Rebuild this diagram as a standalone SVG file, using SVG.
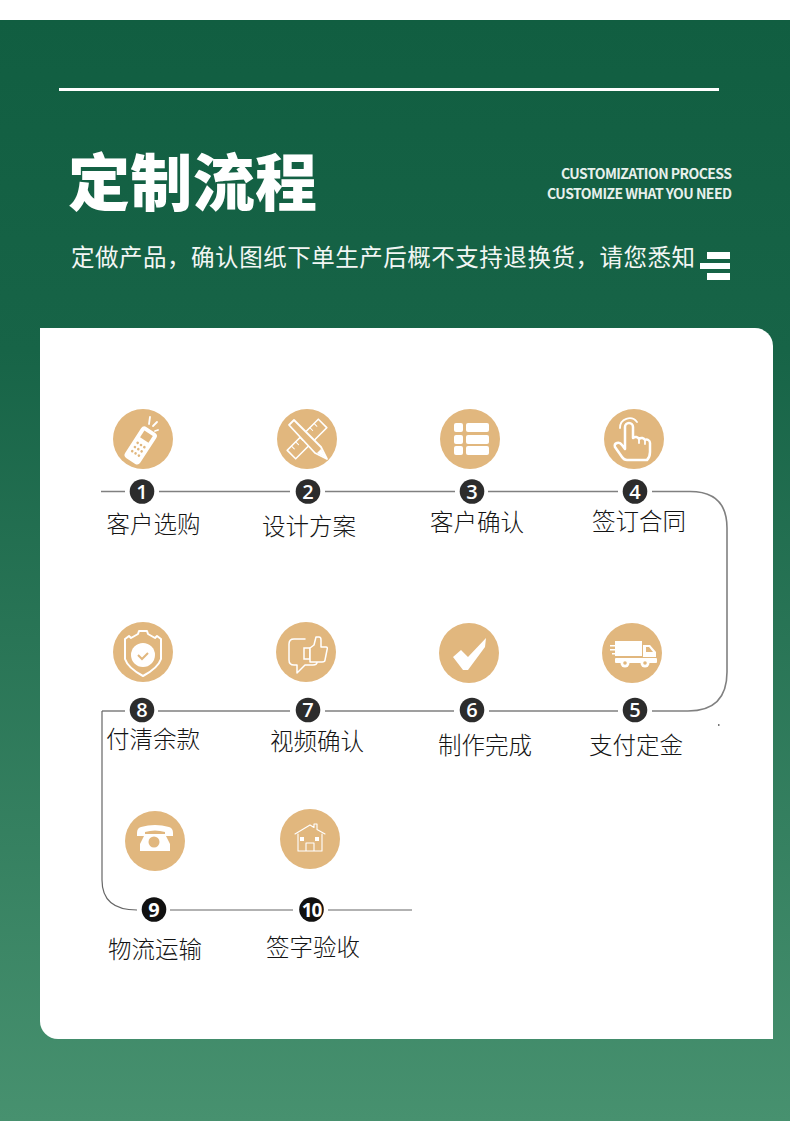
<svg xmlns="http://www.w3.org/2000/svg" width="790" height="1121" viewBox="0 0 790 1121">
<style>
.zh{font-family:"Noto Sans CJK SC","Noto Sans",sans-serif}
.lb{font-size:23.5px;fill:#141414;text-anchor:middle;font-weight:300}
.c{fill:#e1b77e}
.b{fill:#2c2c2c}
.n{font-family:"Open Sans","Liberation Sans",sans-serif;font-size:20px;font-weight:600;fill:#fff;text-anchor:middle}
.w{fill:#fff}
.o{fill:none;stroke:#fff;stroke-linejoin:round;stroke-linecap:round}
.line{fill:none;stroke:#808080;stroke-width:1.6}
.en{font-family:"Noto Sans CJK SC","Noto Sans",sans-serif;font-size:14px;font-weight:700;fill:#e8f0ec;text-anchor:end}
</style>
<defs>
<linearGradient id="bg" x1="0" y1="20" x2="0" y2="1121" gradientUnits="userSpaceOnUse">
<stop offset="0" stop-color="#115e41"/><stop offset="0.3" stop-color="#176447"/><stop offset="1" stop-color="#47916f"/>
</linearGradient>
</defs>
<rect width="790" height="1121" fill="#fff"/>
<rect y="20" width="790" height="1101" fill="url(#bg)"/>
<rect x="59" y="88" width="660" height="3" fill="#fff"/>
<text class="zh" x="68" y="206" font-size="62" font-weight="900" fill="#fff" textLength="249">定制流程</text>
<text class="en" x="732" y="179" textLength="171">CUSTOMIZATION PROCESS</text>
<text class="en" x="732" y="199" textLength="185">CUSTOMIZE WHAT YOU NEED</text>
<text class="zh" x="71" y="266" font-size="23.5" fill="#f2f6f4" textLength="624">定做产品，确认图纸下单生产后概不支持退换货，请您悉知</text>
<g class="w"><rect x="707" y="252" width="23" height="7"/><rect x="700" y="263" width="30" height="6"/><rect x="707" y="273" width="23" height="7"/></g>
<path d="M40 328H755A18 18 0 0 1 773 346V1039H58A18 18 0 0 1 40 1021Z" fill="#fff"/>

<g id="connectors">
<path class="line" d="M101 491.500H125M159 491.500H290M325 491.500H455M488 491.500H618M652 491.500H690Q727 491.500 727 528V672Q727 711 688 711H652M618 711H489M454 711H325M290 711H158M125 711H102"/>
<path d="M102 711V880Q102 910 137 910M170 910H293M328 910H412" fill="none" stroke="#666" stroke-width="1.200"/>
<rect x="718" y="724" width="1.500" height="2" fill="#777"/>
</g>

<g id="node1"><circle class="c" cx="143" cy="439" r="30"/>
<g transform="rotate(33 141 445)"><rect class="w" x="132" y="427" width="18" height="37" rx="4"/><rect class="c" x="136" y="431" width="10" height="8"/><g class="c"><circle cx="137" cy="445" r="1.300"/><circle cx="141" cy="445" r="1.300"/><circle cx="145" cy="445" r="1.300"/><circle cx="137" cy="450" r="1.300"/><circle cx="141" cy="450" r="1.300"/><circle cx="145" cy="450" r="1.300"/><circle cx="137" cy="455" r="1.300"/><circle cx="141" cy="455" r="1.300"/><circle cx="145" cy="455" r="1.300"/></g></g>
<path class="o" style="stroke-width:1.800" d="M149 424l1-7M153 426l4-4M155 431l3-1"/>
<circle class="b" cx="142" cy="491.500" r="12.300"/><text class="n" x="142" y="498.500">1</text>
<text class="zh lb" x="153.500" y="533">客户选购</text></g>

<g id="node2"><circle class="c" cx="307" cy="439" r="30"/>
<g transform="rotate(-45 307 439)"><rect x="285" y="433" width="44" height="12" class="o" style="stroke-width:1.600"/><path class="o" style="stroke-width:1" d="M291 433v4M297 433v4M303 433v4M311 433v4M317 433v4M323 433v4"/></g>
<path d="M289 425l5-5 27 27 6 12-12-6z" fill="#e1b77e" stroke="#fff" stroke-width="1.800" stroke-linejoin="round"/><path class="w" d="M321 449l6 10-10-6z"/>
<circle class="b" cx="308" cy="491.500" r="12.300"/><text class="n" x="308" y="498.500">2</text>
<text class="zh lb" x="309" y="535">设计方案</text></g>

<g id="node3"><circle class="c" cx="470" cy="439" r="30"/>
<g class="w"><rect x="454" y="423" width="9" height="9" rx="2"/><rect x="466" y="423" width="23" height="9" rx="2"/><rect x="454" y="435" width="9" height="9" rx="2"/><rect x="466" y="435" width="23" height="9" rx="2"/><rect x="454" y="446" width="9" height="9" rx="2"/><rect x="466" y="446" width="23" height="9" rx="2"/></g>
<circle class="b" cx="472" cy="491.500" r="12.300"/><text class="n" x="472" y="498.500">3</text>
<text class="zh lb" x="477" y="531">客户确认</text></g>

<g id="node4"><circle class="c" cx="634" cy="439" r="30"/>
<path class="o" style="stroke-width:2.500" d="M625 449V427a4 4 0 0 1 8 0V438c2-2 5-1 6 1c2-2 5-1 6 1c2-1 5 0 5 3V452q0 5-3 8H627q-3 0-5-3L615 447q-1-3 2-4q3-1 5 2z"/>
<path class="o" style="stroke-width:1.800" d="M639 439v4M645 440v4M620 428a9.500 9.500 0 0 1 17-6"/>
<circle class="b" cx="635" cy="491.500" r="12.300"/><text class="n" x="635" y="498.500">4</text>
<text class="zh lb" x="639" y="530">签订合同</text></g>

<g id="node5"><circle class="c" cx="632" cy="653" r="30"/>
<g class="w"><rect x="615" y="641" width="27" height="15"/><path d="M643 645h7l6 7v5h-13z"/><rect x="615" y="658" width="42" height="5" rx="1"/><rect x="610" y="645" width="10" height="1.500"/><rect x="610" y="649" width="10" height="1.500"/><rect x="612" y="653" width="8" height="1.500"/><circle cx="625" cy="663" r="4.500"/><circle cx="645" cy="663" r="4.500"/></g>
<path d="M646 647h3l4 5h-7z" class="c"/><circle cx="625" cy="663" r="1.800" class="c"/><circle cx="645" cy="663" r="1.800" class="c"/>
<circle class="b" cx="635" cy="710" r="12.300"/><text class="n" x="635" y="717">5</text>
<text class="zh lb" x="636" y="754">支付定金</text></g>

<g id="node6"><circle class="c" cx="469" cy="653" r="30"/>
<path class="w" d="M453 657l8-7 7 7 18-19-1 9-17 23h-5z"/>
<circle class="b" cx="472" cy="710" r="12.300"/><text class="n" x="472" y="717">6</text>
<text class="zh lb" x="485" y="754">制作完成</text></g>

<g id="node7"><circle class="c" cx="306" cy="652" r="30"/>
<path class="o" style="stroke-width:1.500" d="M305 639H294q-5 0-5 5V660q0 5 5 5h3v8l8-8h8q4 0 4-3"/><path d="M304 648h6v11h-6z" fill="#e1b77e" stroke="#fff" stroke-width="1.500"/><path d="M310 648l4-3 2-8h3q2 0 2 3v7h5q2 0 1 3l-2 10q0 2-3 2h-12z" fill="#e1b77e" stroke="#fff" stroke-width="1.500" stroke-linejoin="round"/>
<circle class="b" cx="308" cy="710" r="12.300"/><text class="n" x="308" y="717">7</text>
<text class="zh lb" x="317" y="750">视频确认</text></g>

<g id="node8"><circle class="c" cx="143" cy="652" r="30"/>
<path class="o" style="stroke-width:2" d="M125 639l4-3 2 2 7-4 1-3h8l1 3 7 4 2-2 4 3v20q-3 9-18 17q-15-8-18-17z"/>
<circle cx="143" cy="655" r="12" class="w"/><path d="M138 655l4 4 6-6" fill="none" stroke="#e1b77e" stroke-width="2"/>
<circle class="b" cx="142" cy="710" r="12.300"/><text class="n" x="142" y="717">8</text>
<text class="zh lb" x="153" y="748">付清余款</text></g>

<g id="node9"><circle class="c" cx="155" cy="841" r="30"/>
<path class="w" d="M137 833q0-5 4-6q14-4 28 0q4 1 4 6v3h-8v-4q-10-3-20 0v4h-8z"/><path class="w" d="M145 834h20l5 10v7h-30v-7z"/><circle cx="154" cy="842" r="5.500" class="c"/>
<circle cx="154" cy="909.500" r="12.300" fill="#111"/><text class="n" x="154" y="916.500" style="font-weight:700">9</text>
<text class="zh lb" x="155" y="958">物流运输</text></g>

<g id="node10"><circle class="c" cx="310" cy="839" r="30"/>
<path class="o" style="stroke-width:1.100" d="M295 834l15-9 4 2.500v-3.500h3v5.500l8 4.500M298 834v17h24v-17M306 851v-8h8v8"/><rect class="w" x="300" y="837" width="4" height="4"/><rect class="w" x="315" y="837" width="4" height="4"/>
<circle cx="311.500" cy="909.500" r="12.300" fill="#111"/><text class="n" x="311.500" y="916.500" style="font-size:19px;letter-spacing:-1px;font-weight:700">10</text>
<text class="zh lb" x="313" y="956">签字验收</text></g>
</svg>
